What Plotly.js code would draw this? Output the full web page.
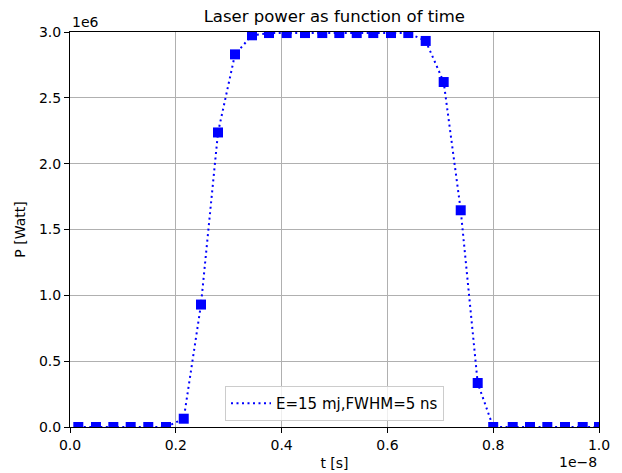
<!DOCTYPE html>
<html>
<head>
<meta charset="utf-8">
<script src="https://cdn.plot.ly/plotly-3.0.1.min.js"></script>
<style>html,body{margin:0;padding:0;background:#fff;}#plot{width:622px;height:473px;}</style>
</head>
<body>
<div id="plot"></div>
<script>
// time in units of 1e-8 s
var tVals = [0.0157,0.0491,0.0819,0.1147,0.1480,0.1815,0.2150,0.2476,0.2798,0.3119,0.3440,0.3762,0.4096,0.4442,0.4769,0.5091,0.5420,0.5733,0.6068,0.6395,0.6724,0.7064,0.7386,0.7707,0.8000,0.8369,0.8696,0.9023,0.9357,0.9692,1.0000];
// power in units of 1e6 W
var pVals = [0,0,0,0,0,0,0.063,0.930,2.237,2.830,2.975,2.992,2.992,2.992,2.992,2.992,2.992,2.992,2.992,2.992,2.932,2.620,1.646,0.334,0,0,0,0,0,0,0];
var seriesLabel = "E=15 mj,FWHM=5 ns";
var xTicks = [0.0,0.2,0.4,0.6,0.8,1.0];
var yTicks = [0.0,0.5,1.0,1.5,2.0,2.5,3.0];

var font = "DejaVu Sans, Verdana, sans-serif";
var traces = [
  {x: tVals, y: pVals, type: "scatter", mode: "lines", name: seriesLabel,
   line: {color: "#0000ff", width: 2, dash: "2px,3.5px"}, cliponaxis: true},
  {x: tVals, y: pVals, type: "scatter", mode: "markers", showlegend: false,
   marker: {symbol: "square", size: 10, color: "#0000ff"}, cliponaxis: true}
];
var axisCommon = {
  showline: true, linecolor: "#000", linewidth: 1, mirror: true,
  ticks: "outside", ticklen: 5, tickwidth: 1, tickcolor: "#000",
  showgrid: true, gridcolor: "#b0b0b0", gridwidth: 1,
  zeroline: false, tickfont: {family: font, size: 14, color: "#000"},
  tickformat: ".1f"
};
var layout = {
  width: 622, height: 473,
  margin: {l: 70, r: 23, t: 32, b: 46},
  paper_bgcolor: "#fff", plot_bgcolor: "#fff",
  font: {family: font, color: "#000"},
  title: {text: "Laser power as function of time", font: {family: font, size: 16.5, color: "#000"},
          x: 0.5375, xanchor: "center", y: 0.966, yanchor: "middle"},
  xaxis: Object.assign({}, axisCommon, {range: [0, 1.0], tickvals: xTicks,
          title: {text: "t [s]", font: {family: font, size: 14, color: "#000"}, standoff: 6}}),
  yaxis: Object.assign({}, axisCommon, {range: [0, 3.0], tickvals: yTicks,
          title: {text: "P [Watt]", font: {family: font, size: 14, color: "#000"}, standoff: 10}}),
  legend: {x: 0.5, xanchor: "center", y: 0.015, yanchor: "bottom",
           bgcolor: "rgba(255,255,255,0.8)", bordercolor: "#cccccc", borderwidth: 1,
           itemwidth: 40, tracegroupgap: 0,
           font: {family: font, size: 15, color: "#000"}},
  annotations: [
    {text: "1e6", xref: "paper", yref: "paper", x: 0, y: 1, xanchor: "left", yanchor: "bottom",
     showarrow: false, font: {family: font, size: 14, color: "#000"}, yshift: 0},
    {text: "1e\u22128", xref: "paper", yref: "paper", x: 1, y: -0.089, xanchor: "right", yanchor: "middle",
     showarrow: false, font: {family: font, size: 14, color: "#000"}}
  ]
};
Plotly.newPlot("plot", traces, layout, {displayModeBar: false, staticPlot: true});
</script>
</body>
</html>
